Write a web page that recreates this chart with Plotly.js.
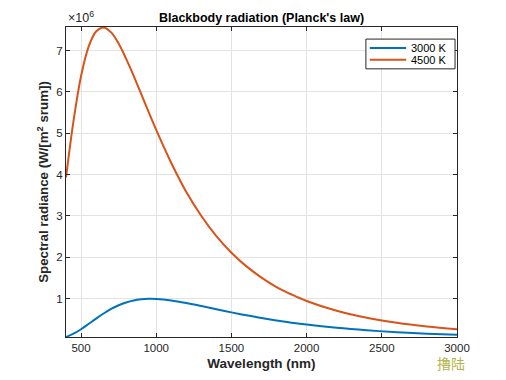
<!DOCTYPE html>
<html>
<head>
<meta charset="utf-8">
<script src="https://cdn.plot.ly/plotly-3.0.1.min.js"></script>
<style>
html,body{margin:0;padding:0;background:#fff;}
#chart{width:506px;height:380px;}
</style>
</head>
<body>
<div id="chart"></div>
<script>
// Wavelength samples (nm)
const wavelength = [400,450,500,550,600,650,700,750,800,850,900,950,1000,1100,1200,1300,1400,1500,1600,1700,1800,1900,2000,2200,2400,2600,2800,3000];
// Spectral radiance, units of 1e6 W/(m^2 sr um)
const radiance3000 = [0.072,0.152,0.260,0.387,0.517,0.641,0.751,0.840,0.908,0.955,0.983,0.995,0.992,0.957,0.896,0.822,0.745,0.668,0.597,0.531,0.472,0.419,0.372,0.295,0.235,0.188,0.152,0.124];
const radiance4500 = [3.93,5.30,6.38,7.09,7.46,7.56,7.44,7.17,6.80,6.39,5.95,5.51,5.08,4.28,3.58,3.00,2.51,2.11,1.78,1.51,1.28,1.10,0.943,0.705,0.536,0.414,0.325,0.258];
const seriesNames = ['3000 K','4500 K'];
const seriesColors = ['#0072BD','#D95319'];
const yTicks = [1,2,3,4,5,6,7];
const xTicks = [500,1000,1500,2000,2500,3000];

const font = 'Liberation Sans, Arial, Helvetica, sans-serif';
const axisCommon = {
  showline:true, mirror:'ticks', linecolor:'#262626', linewidth:1,
  ticks:'inside', ticklen:4, tickcolor:'#262626',
  showgrid:true, gridcolor:'#e3e3e3', gridwidth:1, zeroline:false,
  tickfont:{family:font,size:11.5,color:'#262626'}
};

const seriesY = [radiance3000, radiance4500];
const traces = seriesY.map((ys,i)=>({
  x:wavelength, y:ys, name:seriesNames[i], type:'scatter', mode:'lines', showlegend:false,
  line:{color:seriesColors[i], width:2, shape:'spline', smoothing:1}
}));

// custom legend (paper coordinates)
const legBox = {x0:0.767, x1:0.995, y0:0.865, y1:0.961};
const rowY = [0.932, 0.894];
const shapes = [
  {type:'rect', xref:'paper', yref:'paper', x0:legBox.x0, x1:legBox.x1, y0:legBox.y0, y1:legBox.y1,
   line:{color:'#262626', width:1}, fillcolor:'#fff', layer:'above'}
];
const annotations = [
  {xref:'paper', yref:'paper', x:0, y:1, xanchor:'left', yanchor:'bottom', yshift:0,
   text:'×10<sup>6</sup>', showarrow:false, font:{family:font,size:12.5,color:'#262626'}},
  {xref:'paper', yref:'paper', x:1.025, y:0, xanchor:'right', yanchor:'middle', yshift:-26,
   text:'擼陆', showarrow:false, font:{family:'Noto Sans CJK SC, sans-serif',size:14,color:'#b3b54a'}}
];
seriesNames.forEach((n,i)=>{
  shapes.push({type:'line', xref:'paper', yref:'paper', x0:0.777, x1:0.870, y0:rowY[i], y1:rowY[i],
               line:{color:seriesColors[i], width:2}, layer:'above'});
  annotations.push({xref:'paper', yref:'paper', x:0.877, y:rowY[i], xanchor:'left', yanchor:'middle',
               text:n, showarrow:false, font:{family:font,size:11,color:'#000'}});
});

const layout = {
  width:506, height:380,
  margin:{l:66, r:49, t:27, b:43, pad:0},
  paper_bgcolor:'#fff', plot_bgcolor:'#fff',
  title:{text:"<b>Blackbody radiation (Planck's law)</b>", font:{family:font,size:12.5,color:'#000'},
         x:0.5, xref:'paper', y:1, yref:'paper', yanchor:'bottom', pad:{b:5}},
  xaxis:Object.assign({}, axisCommon, {
    range:[400,3000], tickvals:xTicks, ticktext:xTicks.map(String),
    title:{text:'<b>Wavelength (nm)</b>', font:{family:font,size:13.5,color:'#262626'}, standoff:5}
  }),
  yaxis:Object.assign({}, axisCommon, {
    range:[0.072,7.57], tickvals:yTicks, ticktext:yTicks.map(String),
    title:{text:'<b>Spectral radiance (W/[m<sup>2</sup> srum])</b>', font:{family:font,size:13.3,color:'#262626'}, standoff:4}
  }),
  showlegend:false,
  shapes:shapes,
  annotations:annotations
};

Plotly.newPlot('chart', traces, layout, {displayModeBar:false, staticPlot:true});
</script>
</body>
</html>
